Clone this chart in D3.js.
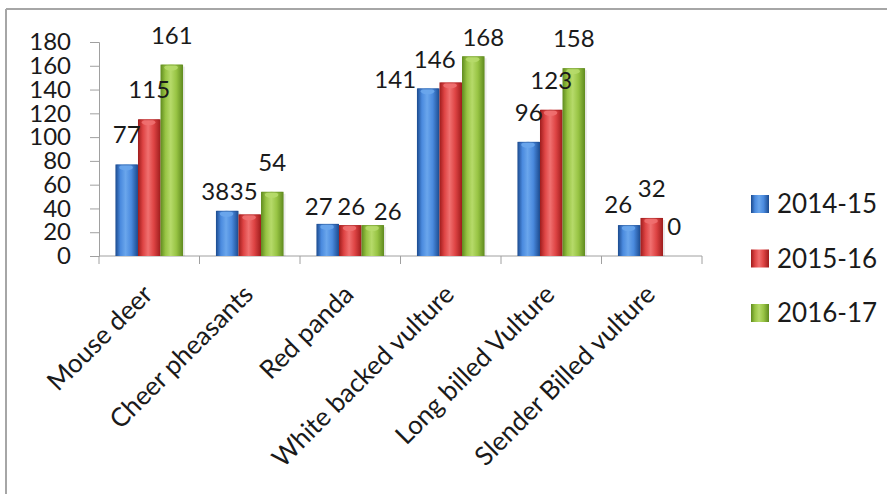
<!DOCTYPE html>
<html><head><meta charset="utf-8">
<script src="https://cdn.jsdelivr.net/npm/d3@7"></script>
<style>
html,body{margin:0;padding:0;background:#fff;}
svg{display:block;font-family:Lato, "Open Sans", sans-serif;}
</style></head>
<body>
<script>
const categories = ["Mouse deer","Cheer pheasants","Red panda","White backed vulture","Long billed Vulture","Slender Billed vulture"];
const seriesNames = ["2014-15","2015-16","2016-17"];
const values2014 = [77,38,27,141,96,26];
const values2015 = [115,35,26,146,123,32];
const values2016 = [161,54,26,168,158,0];
const yTicks = [0,20,40,60,80,100,120,140,160,180];

// layout: nudges (px) of individual value labels away from their default place
const labelNudge = {
  "Cheer pheasants|2014-15": [-12, 10],
  "Cheer pheasants|2015-16": [-6, 7],
  "Red panda|2014-15": [-9, 12],
  "Red panda|2015-16": [1, 11],
  "Red panda|2016-17": [15, 16],
  "White backed vulture|2014-15": [-33, 21],
  "White backed vulture|2015-16": [-16, 7],
  "White backed vulture|2016-17": [10, 11],
  "Slender Billed vulture|2014-15": [-11, 9]
};

const seriesValues = [values2014, values2015, values2016];
const palette = [
  {edge:"#1b4a8e", mid:"#4a8ade", light:"#6aa6ec", id:"gBlue"},
  {edge:"#9e1c1c", mid:"#de4444", light:"#f07070", id:"gRed"},
  {edge:"#5f8a1e", mid:"#98c444", light:"#b6da6a", id:"gGreen"}
];

const W = 887, H = 494;
const svg = d3.select("body").append("svg").attr("width", W).attr("height", H);
const defs = svg.append("defs");
palette.forEach(p => {
  const g = defs.append("linearGradient").attr("id", p.id).attr("x1","0").attr("x2","1").attr("y1","0").attr("y2","0");
  g.append("stop").attr("offset","0%").attr("stop-color", p.edge);
  g.append("stop").attr("offset","22%").attr("stop-color", p.mid);
  g.append("stop").attr("offset","45%").attr("stop-color", p.light);
  g.append("stop").attr("offset","70%").attr("stop-color", p.mid);
  g.append("stop").attr("offset","100%").attr("stop-color", p.edge);
});

// outer frame (top and left edges visible)
svg.append("line").attr("x1",6).attr("x2",W).attr("y1",9).attr("y2",9).attr("stroke","#a6a6a6").attr("stroke-width",2);
svg.append("line").attr("x1",6).attr("x2",6).attr("y1",9).attr("y2",H).attr("stroke","#a6a6a6").attr("stroke-width",2);

const plot = {left:99, right:702, top:42, bottom:256};
const x0 = d3.scaleBand().domain(categories).range([plot.left, plot.right]).paddingInner(0).paddingOuter(0);
const x1 = d3.scaleBand().domain(seriesNames).range([0, x0.bandwidth()]).paddingInner(0).paddingOuter(0.73);
const y = d3.scaleLinear().domain([0,180]).range([plot.bottom, plot.top]);

// y axis
const yAxis = svg.append("g").attr("transform",`translate(${plot.left},0)`)
  .call(d3.axisLeft(y).tickValues(yTicks).tickSize(9).tickPadding(19));
yAxis.select(".domain").attr("stroke","#a0a0a0");
yAxis.selectAll(".tick line").attr("stroke","#a0a0a0");
yAxis.selectAll(".tick text").attr("font-size",24).attr("fill","#1a1a1a").attr("font-family","Lato");

// x axis
const xAxisG = svg.append("g").attr("transform",`translate(0,${plot.bottom})`);
xAxisG.append("line").attr("x1",plot.left).attr("x2",plot.right).attr("stroke","#a0a0a0");
const boundaries = categories.map(c => x0(c)).concat([plot.right]);
xAxisG.selectAll("line.tk").data(boundaries).join("line").attr("class","tk")
  .attr("x1",d=>d).attr("x2",d=>d).attr("y1",0).attr("y2",8).attr("stroke","#a0a0a0");

// bars
const groups = svg.append("g").selectAll("g").data(categories).join("g")
  .attr("transform", c => `translate(${x0(c)},0)`);
const labelLayer = svg.append("g");
seriesNames.forEach((s, si) => {
  const p = palette[si];
  const bw = x1.bandwidth();
  groups.each(function(c, ci){
    const v = seriesValues[si][ci];
    const g = d3.select(this);
    const bx = x1(s);
    if (v > 0) {
      g.append("rect").attr("x", bx+2).attr("y", y(v)+2).attr("width", bw).attr("height", plot.bottom - y(v) - 2)
        .attr("fill","#000").attr("opacity",0.08);
      g.append("rect").attr("x", bx).attr("y", y(v)).attr("width", bw).attr("height", plot.bottom - y(v))
        .attr("fill", `url(#${p.id})`);
      g.append("ellipse").attr("cx", bx + bw*0.47).attr("cy", y(v)+3).attr("rx", bw*0.3).attr("ry", 3)
        .attr("fill", p.light).attr("opacity",0.9);
      g.append("line").attr("x1", bx+1).attr("x2", bx+bw-1).attr("y1", y(v)+0.5).attr("y2", y(v)+0.5)
        .attr("stroke", p.edge).attr("stroke-opacity",0.5);
    }
    const nd = labelNudge[c + "|" + s] || [0, 0];
    labelLayer.append("text").attr("x", x0(c) + bx + bw/2 + nd[0]).attr("y", y(v) - 21 + nd[1])
      .attr("text-anchor","middle").attr("font-size",24).attr("fill","#1a1a1a").text(v);
  });
});

// category labels
svg.append("g").selectAll("text").data(categories).join("text")
  .attr("transform", c => `translate(${x0(c)+x0.bandwidth()/2+5},${plot.bottom+40}) rotate(-45)`)
  .attr("text-anchor","end").attr("font-size",26).attr("fill","#1a1a1a").text(c => c);

// legend
const legend = svg.append("g").selectAll("g").data(seriesNames).join("g")
  .attr("transform", (s,i) => `translate(751,${204 + i*54.5})`);
legend.append("rect").attr("x",0).attr("y",-9).attr("width",18).attr("height",18)
  .attr("fill",(s,i)=>`url(#${palette[i].id})`);
legend.append("text").attr("x",26).attr("y",0).attr("dy","0.35em").attr("font-size",26).attr("fill","#1a1a1a").text(s=>s);
</script>
</body></html>
